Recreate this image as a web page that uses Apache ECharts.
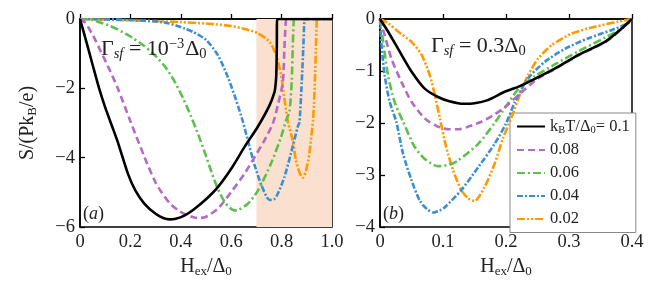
<!DOCTYPE html>
<html><head><meta charset="utf-8">
<script src="https://cdn.jsdelivr.net/npm/echarts@6/dist/echarts.min.js"></script>
<style>html,body{margin:0;padding:0;background:#fff}#c{width:664px;height:289px}</style>
</head><body><div id="c"></div>
<script>
// ---------- data: panel (a), Gamma_sf = 1e-3 Delta0 ----------
const blackAx  = [0,0.025,0.05,0.075,0.1,0.125,0.15,0.19,0.22,0.256,0.3,0.33,0.355,0.38,0.414,0.45,0.5,0.547,0.6,0.653,0.706,0.752,0.772,0.776,0.779,0.781,0.782,1.0];
const blackAy  = [0,-0.65,-1.32,-1.98,-2.55,-3.05,-3.55,-4.46,-4.95,-5.33,-5.62,-5.74,-5.78,-5.76,-5.67,-5.5,-5.2,-4.85,-4.32,-3.69,-3.1,-2.49,-2.1,-1.9,-1.6,-0.8,0,0];
const purpleAx = [0,0.02,0.05,0.08,0.11,0.15,0.2,0.257,0.3,0.335,0.361,0.39,0.414,0.44,0.465,0.495,0.547,0.6,0.653,0.693,0.732,0.765,0.785,0.805,0.811,0.816,0.82,1.0];
const purpleAy = [0,-0.1,-0.45,-0.9,-1.35,-2.0,-2.95,-4.0,-4.72,-5.12,-5.35,-5.52,-5.62,-5.7,-5.74,-5.72,-5.47,-4.99,-4.46,-3.98,-3.5,-3.02,-2.49,-1.81,-0.85,-0.17,0,0];
const greenAx  = [0,0.05,0.071,0.12,0.19,0.25,0.296,0.34,0.375,0.41,0.44,0.47,0.5,0.521,0.547,0.574,0.595,0.613,0.63,0.666,0.706,0.758,0.798,0.818,0.831,0.84,0.844,0.848,0.85,1.0];
const greenAy  = [0,-0.03,-0.08,-0.2,-0.46,-0.75,-1.04,-1.4,-1.8,-2.3,-2.8,-3.35,-3.95,-4.4,-4.9,-5.28,-5.45,-5.52,-5.5,-5.33,-4.95,-4.17,-3.4,-2.92,-2.68,-1.81,-0.85,-0.08,0,0];
const blueAx   = [0,0.1,0.2,0.3,0.35,0.414,0.45,0.5,0.547,0.587,0.62,0.646,0.666,0.693,0.719,0.74,0.752,0.77,0.785,0.811,0.837,0.864,0.871,0.88,0.886,0.89,0.892,1.0];
const blueAy   = [0,-0.01,-0.03,-0.07,-0.12,-0.27,-0.38,-0.6,-1.04,-1.68,-2.35,-2.95,-3.5,-4.22,-4.78,-5.12,-5.22,-5.2,-5.04,-4.56,-3.88,-3.11,-2.97,-1.81,-0.85,-0.08,0,0];
const orangeAx = [0,0.1,0.2,0.3,0.4,0.5,0.6,0.65,0.706,0.752,0.778,0.798,0.811,0.826,0.844,0.857,0.872,0.884,0.897,0.91,0.919,0.925,0.932,0.936,0.939,0.941,1.0];
const orangeAy = [0,-0.02,-0.04,-0.06,-0.09,-0.13,-0.2,-0.28,-0.41,-0.66,-1.04,-1.62,-2.29,-3.0,-3.5,-4.08,-4.45,-4.58,-4.37,-3.88,-3.31,-2.92,-1.81,-0.85,-0.12,0,0];
const shadeRange = [0.7, 1.0];

// ---------- data: panel (b), Gamma_sf = 0.3 Delta0 ----------
const blackBx  = [0,0.0127,0.0286,0.05,0.071,0.092,0.11,0.133,0.15,0.171,0.198,0.22,0.241,0.278,0.315,0.357,0.381,0.4];
const blackBy  = [0,-0.24,-0.57,-1.01,-1.34,-1.5,-1.58,-1.63,-1.62,-1.56,-1.4,-1.3,-1.18,-0.95,-0.69,-0.44,-0.21,0];
const purpleBx = [0,0.0074,0.018,0.034,0.05,0.071,0.09,0.11,0.125,0.14,0.16,0.18,0.2,0.22,0.25,0.278,0.315,0.357,0.381,0.4];
const purpleBy = [0,-0.31,-0.76,-1.21,-1.59,-1.91,-2.06,-2.12,-2.12,-2.07,-1.98,-1.85,-1.68,-1.46,-1.15,-0.96,-0.7,-0.45,-0.22,0];
const greenBx  = [0,0.005,0.0127,0.023,0.0365,0.055,0.071,0.092,0.11,0.124,0.156,0.182,0.2,0.22,0.246,0.278,0.315,0.357,0.381,0.4];
const greenBy  = [0,-0.44,-1.08,-1.59,-1.97,-2.46,-2.69,-2.83,-2.8,-2.72,-2.4,-2.0,-1.68,-1.34,-1.1,-0.87,-0.62,-0.36,-0.2,0];
const blueBx   = [0,0.002,0.0074,0.0153,0.026,0.0365,0.05,0.063,0.075,0.085,0.095,0.103,0.129,0.156,0.182,0.2,0.214,0.235,0.262,0.294,0.331,0.368,0.394,0.4];
const blueBy   = [0,-0.44,-1.08,-1.59,-1.98,-2.59,-3.1,-3.49,-3.66,-3.72,-3.68,-3.62,-3.29,-2.85,-2.4,-2.01,-1.6,-1.14,-0.82,-0.57,-0.37,-0.21,-0.08,0];
const orangeBx = [0,0.0127,0.0286,0.05,0.066,0.079,0.087,0.095,0.105,0.116,0.129,0.14,0.15,0.166,0.182,0.195,0.21,0.222,0.235,0.251,0.273,0.304,0.341,0.378,0.4];
const orangeBy = [0,-0.08,-0.24,-0.44,-0.69,-1.08,-1.46,-1.91,-2.46,-2.91,-3.29,-3.45,-3.5,-3.23,-2.78,-2.3,-1.85,-1.45,-1.08,-0.76,-0.5,-0.28,-0.15,-0.05,0];

const seriesNames = ['0.1','0.08','0.06','0.04','0.02'];
const xTicksA = [0,0.2,0.4,0.6,0.8,1.0];
const yTicksA = [-6,-4,-2,0];
const xTicksB = [0,0.1,0.2,0.3,0.4];
const yTicksB = [-4,-3,-2,-1,0];

// ---------- styles ----------
const colors = ['#000000','#b36bc6','#5dbf4e','#3a8fd3','#ff9a00'];
const dashes = ['solid',[7,4],[8,3,2,3],[6,2,2,2],[8,2,2,2,2,2]];
const FONT = 'Liberation Serif';

const zip = (xs, ys) => xs.map((x, i) => [x, ys[i]]);
const panelA = [zip(blackAx,blackAy),zip(purpleAx,purpleAy),zip(greenAx,greenAy),zip(blueAx,blueAy),zip(orangeAx,orangeAy)];
const panelB = [zip(blackBx,blackBy),zip(purpleBx,purpleBy),zip(greenBx,greenBy),zip(blueBx,blueBy),zip(orangeBx,orangeBy)];

const fmtNum = v => (v < 0 ? '\u2212' + Math.abs(v) : String(v));
const fmtX = d => v => (v === 0 ? '0' : v.toFixed(d));

const subRich = {
  n: {fontFamily: FONT, fontSize: 20, color: '#222'},
  s: {fontFamily: FONT, fontSize: 13, color: '#222', verticalAlign: 'bottom', padding: [9,0,0,0]}
};

function xAxis(idx, ticks, dec) {
  return {
    type: 'value', gridIndex: idx, min: ticks[0], max: ticks[ticks.length-1],
    interval: ticks[1]-ticks[0],
    axisLine: {show: true, lineStyle: {color: '#000', width: 1.5}},
    axisTick: {show: true, inside: true, length: 5, lineStyle: {color: '#000', width: 1.3}},
    axisLabel: {formatter: fmtX(dec), fontFamily: FONT, fontSize: 18.5, color: '#222', margin: 6},
    splitLine: {show: false},
    name: '{n|H}{s|ex}{n|/Δ}{s|0}', nameLocation: 'middle', nameGap: 29,
    nameTextStyle: {rich: subRich}
  };
}
function yAxis(idx, ticks, withName) {
  return {
    type: 'value', gridIndex: idx, min: ticks[0], max: ticks[ticks.length-1],
    interval: ticks[1]-ticks[0],
    axisLine: {show: true, lineStyle: {color: '#000', width: 1.5}},
    axisTick: {show: true, inside: true, length: 5, lineStyle: {color: '#000', width: 1.3}},
    axisLabel: {formatter: fmtNum, fontFamily: FONT, fontSize: 18.5, color: '#222', margin: 5},
    splitLine: {show: false},
    name: withName ? '{n|S/(Pk}{s|B}{n|/e)}' : '', nameLocation: 'middle', nameGap: 41, nameRotate: 90,
    nameTextStyle: {rich: subRich}
  };
}

const series = [];
series.push({
  type: 'line', xAxisIndex: 0, yAxisIndex: 0, data: [], silent: true, z: 1,
  markArea: {silent: true, itemStyle: {color: '#f9e0cf'},
    data: [[{xAxis: shadeRange[0]}, {xAxis: shadeRange[1]}]]}
});
[panelA, panelB].forEach((panel, p) => {
  panel.forEach((d, i) => {
    series.push({
      name: seriesNames[i], type: 'line', xAxisIndex: p, yAxisIndex: p,
      data: d, showSymbol: false, symbol: 'none', smooth: 0.25, z: 10 - i,
      lineStyle: {color: colors[i], width: 2.6, type: dashes[i]},
      itemStyle: {color: colors[i]}
    });
  });
});

const legendRich = {
  t: {fontFamily: FONT, fontSize: 16.5, color: '#222'},
  s: {fontFamily: FONT, fontSize: 10.5, color: '#222', verticalAlign: 'bottom', padding: [7,0,0,0]}
};

const chart = echarts.init(document.getElementById('c'), null, {renderer: 'canvas'});
chart.setOption({
  animation: false,
  backgroundColor: '#fff',
  grid: [
    {left: 80, top: 19, width: 252, height: 208, show: true, borderColor: '#000', borderWidth: 1.5, backgroundColor: 'transparent'},
    {left: 380, top: 19, width: 252, height: 208, show: true, borderColor: '#000', borderWidth: 1.5, backgroundColor: 'transparent'}
  ],
  xAxis: [xAxis(0, xTicksA, 1), xAxis(1, xTicksB, 1)],
  yAxis: [yAxis(0, yTicksA, true), yAxis(1, yTicksB, false)],
  legend: {
    data: seriesNames, orient: 'vertical', left: 510, top: 113, width: 122,
    padding: [5, 6, 5, 6], itemGap: 6, itemWidth: 28, itemHeight: 14,
    backgroundColor: '#fff', borderColor: '#888', borderWidth: 1, borderRadius: 0,
    selectedMode: false,
    itemStyle: {opacity: 0},
    formatter: n => n === '0.1' ? '{t|k}{s|B}{t|T/Δ}{s|0}{t|= 0.1}' : '{t|' + n + '}',
    textStyle: {rich: legendRich, fontFamily: FONT, fontSize: 16.5}
  },
  graphic: [
    {type: 'text', left: 101, top: 37, z: 100, style: {
      text: '{g|Γ}{i|sf}{g| = 10}{p|−3}{g|Δ}{s|0}',
      rich: {
        g: {fontFamily: FONT, fontSize: 22, fill: '#222'},
        i: {fontFamily: FONT, fontSize: 14.5, fontStyle: 'italic', fill: '#222', verticalAlign: 'bottom', padding: [10,0,0,0]},
        p: {fontFamily: FONT, fontSize: 14.5, fill: '#222', verticalAlign: 'top', padding: [0,1,9,0]},
        s: {fontFamily: FONT, fontSize: 14.5, fill: '#222', verticalAlign: 'bottom', padding: [10,0,0,0]}
      }}},
    {type: 'text', left: 431, top: 35, z: 100, style: {
      text: '{g|Γ}{i|sf}{g| = 0.3Δ}{s|0}',
      rich: {
        g: {fontFamily: FONT, fontSize: 22, fill: '#222'},
        i: {fontFamily: FONT, fontSize: 14.5, fontStyle: 'italic', fill: '#222', verticalAlign: 'bottom', padding: [10,0,0,0]},
        s: {fontFamily: FONT, fontSize: 14.5, fill: '#222', verticalAlign: 'bottom', padding: [10,0,0,0]}
      }}},
    {type: 'text', left: 83, top: 205, z: 100, style: {text: '{n|(}{i|a}{n|)}',
      rich: {n: {fontFamily: FONT, fontSize: 18, fill: '#222'}, i: {fontFamily: FONT, fontSize: 18, fontStyle: 'italic', fill: '#222'}}}},
    {type: 'text', left: 383, top: 205, z: 100, style: {text: '{n|(}{i|b}{n|)}',
      rich: {n: {fontFamily: FONT, fontSize: 18, fill: '#222'}, i: {fontFamily: FONT, fontSize: 18, fontStyle: 'italic', fill: '#222'}}}}
  ],
  series: series
});
</script></body></html>
